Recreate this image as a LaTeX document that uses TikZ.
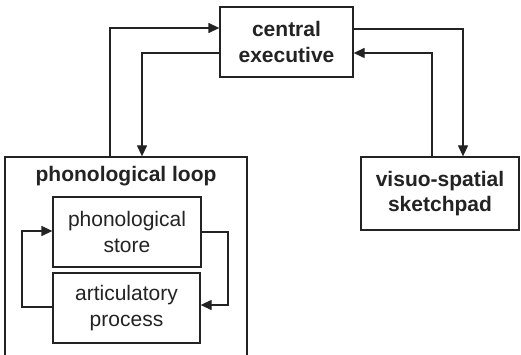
\documentclass[tikz,border=0pt]{standalone}
\usepackage{fontspec}
\setmainfont{Liberation Sans}
\usetikzlibrary{arrows.meta}
\definecolor{ink}{HTML}{232323}
\tikzset{
  box/.style={draw=ink, line width=1.3pt, fill=white, inner sep=0pt, align=center, text=ink,
    font=\fontsize{21}{25.5}\selectfont},
  boldbox/.style={box, font=\fontsize{21}{25.5}\selectfont\bfseries},
  arr/.style={draw=ink, line width=1.3pt, -{Triangle[length=11pt,width=10pt]}},
  ttl/.style={text=ink, inner sep=0pt, font=\fontsize{21}{25.5}\selectfont\bfseries}
}
\begin{document}
\begin{tikzpicture}[x=1pt,y=-1pt]
\useasboundingbox (0,0) rectangle (521,355);
% nodes
\node[boldbox, minimum width=133pt, minimum height=70pt] (ce) at (286.5,42) {central\\executive};
\node[box, minimum width=242pt, minimum height=213pt] (pl) at (126,263.5) {};
\node[ttl] (plt) at (126,176) {phonological loop};
\node[box, minimum width=148pt, minimum height=70pt] (ps) at (127,232) {phonological\\store};
\node[box, minimum width=147pt, minimum height=70pt] (ap) at (126.5,308) {articulatory\\process};
\node[boldbox, minimum width=158pt, minimum height=73pt] (vss) at (440,193.5) {visuo-spatial\\sketchpad};
% bend points
\coordinate (a1) at (110,28);
\coordinate (a2) at (142,53);
\coordinate (b1) at (463,29);
\coordinate (b2) at (432,53);
\coordinate (c1) at (22,307);
\coordinate (c2) at (22,231);
\coordinate (d1) at (228,232);
\coordinate (d2) at (228,305);
% connectors
\draw[arr] (pl.north -| a1) |- (ce.west |- a1);
\draw[arr] (ce.west |- a2) -| (pl.north -| a2);
\draw[arr] (ce.east |- b1) -| (vss.north -| b1);
\draw[arr] (vss.north -| b2) |- (ce.east |- b2);
\draw[arr] (ap.west |- c1) -- (c1) -- (c2) -- (ps.west |- c2);
\draw[arr] (ps.east |- d1) -- (d1) -- (d2) -- (ap.east |- d2);
\end{tikzpicture}
\end{document}
